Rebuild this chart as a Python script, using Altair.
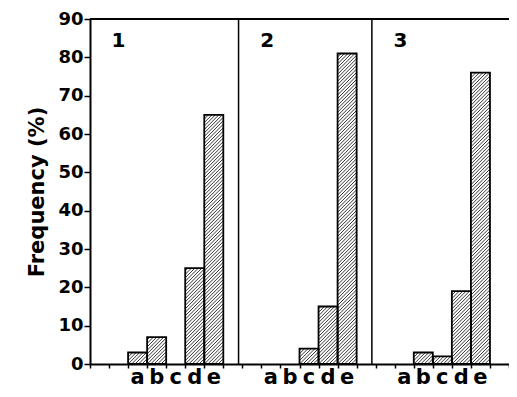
import altair as alt
import pandas as pd

# ---- data ----
categories = ["a", "b", "c", "d", "e"]
panel_names = ["1", "2", "3"]
freq_panel_1 = [3, 7, 0, 25, 65]
freq_panel_2 = [0, 0, 4, 15, 81]
freq_panel_3 = [0, 3, 2, 19, 76]
y_ticks = [0, 10, 20, 30, 40, 50, 60, 70, 80, 90]

# ---- layout constants (slot units on a shared x scale) ----
SLOTS_PER_PANEL = 7
FIRST_SLOT = 2
PANEL_START = [0.0, 7.8, 14.8]
X_MAX = 22.0
Y_MAX = 90
W, H = 419, 345
PAD_TOP, PAD_BOTTOM = 11, 25
FONT = "DejaVu Sans"

series = [freq_panel_1, freq_panel_2, freq_panel_3]
rows = []
for p, vals in enumerate(series):
    for k, (c, v) in enumerate(zip(categories, vals)):
        x0 = SLOTS_PER_PANEL * p + FIRST_SLOT + k
        rows.append({"panel": panel_names[p], "cat": c, "freq": v,
                     "x0": x0, "x1": x0 + 1, "xc": x0 + 0.5})
bars_df = pd.DataFrame(rows)

labels_df = pd.DataFrame({"panel": panel_names,
                          "xp": [s + 1.5 for s in PANEL_START]})
dividers_df = pd.DataFrame({"xd": PANEL_START[1:]})

xs = alt.Scale(domain=[0, X_MAX], nice=False, zero=False)
ys = alt.Scale(domain=[0, Y_MAX], nice=False)

x_axis = alt.Axis(values=list(range(0, 23)), labels=False, title=None,
                  tickSize=4, tickWidth=1.5, tickColor="black",
                  domainWidth=2, domainColor="black", grid=False)
y_axis = alt.Axis(values=y_ticks, title="Frequency (%)", grid=False,
                  labelOverlap=False, labelFlush=False,
                  labelFont=FONT, labelFontWeight="bold", labelFontSize=18,
                  labelColor="black", labelPadding=1,
                  tickSize=6, tickWidth=1.5, tickColor="black",
                  domainWidth=2, domainColor="black",
                  titleFont=FONT, titleFontWeight="bold", titleFontSize=21,
                  titleColor="black", titlePadding=10)

base = alt.Chart(bars_df).transform_filter("datum.freq > 0")

# white bar background
bar_bg = base.mark_bar(fill="white", strokeWidth=0).encode(
    x=alt.X("x0:Q", scale=xs, axis=x_axis),
    x2="x1:Q",
    y=alt.Y("freq:Q", scale=ys, axis=y_axis),
    y2=alt.value(H),
)

# diagonal hatching inside each bar
K = (W / X_MAX) / (H / Y_MAX)   # y units for a 45-degree rise across one slot
S = 0.9                          # vertical spacing of hatch lines (y units)
hatch = base.transform_calculate(
    t=f"sequence({-K + S / 2}, datum.freq, {S})"
).transform_flatten(["t"]).transform_calculate(
    xa=f"datum.x0 + max(0, -datum.t) / {K}",
    ya="max(datum.t, 0)",
    xb=f"datum.x0 + min({K}, datum.freq - datum.t) / {K}",
    yb=f"min(datum.t + {K}, datum.freq)",
).mark_rule(color="black", strokeWidth=0.8).encode(
    x=alt.X("xa:Q", scale=xs, axis=x_axis),
    x2="xb:Q",
    y=alt.Y("ya:Q", scale=ys, axis=y_axis),
    y2="yb:Q",
)

bar_outline = base.mark_bar(fillOpacity=0, stroke="black", strokeWidth=1.8).encode(
    x=alt.X("x0:Q", scale=xs, axis=x_axis),
    x2="x1:Q",
    y=alt.Y("freq:Q", scale=ys, axis=y_axis),
    y2=alt.value(H),
)

cat_text = alt.Chart(bars_df).mark_text(
    font=FONT, fontWeight="bold", fontSize=21, color="black",
    baseline="alphabetic"
).encode(
    x=alt.X("xc:Q", scale=xs, axis=x_axis),
    y=alt.value(H + 20),
    text="cat:N",
)

panel_text = alt.Chart(labels_df).mark_text(
    font=FONT, fontWeight="bold", fontSize=20, color="black",
    baseline="alphabetic"
).encode(
    x=alt.X("xp:Q", scale=xs, axis=x_axis),
    y=alt.value(28),
    text="panel:N",
)

dividers = alt.Chart(dividers_df).mark_rule(color="black", strokeWidth=1.5).encode(
    x=alt.X("xd:Q", scale=xs, axis=x_axis),
    y=alt.value(0),
    y2=alt.value(H),
)

top_line = alt.Chart(pd.DataFrame({"a": [0]})).mark_rule(
    color="black", strokeWidth=2
).encode(
    x=alt.value(0),
    x2=alt.value(W),
    y=alt.value(0),
)

chart = alt.layer(
    bar_bg, hatch, bar_outline, dividers, top_line, cat_text, panel_text
).properties(
    width=W, height=H,
    autosize=alt.AutoSizeParams(type="none"),
    padding={"left": 82, "top": PAD_TOP, "right": 0, "bottom": PAD_BOTTOM},
    background="white",
).configure_view(stroke=None)

chart.save("out.html", embed_options={"renderer": "svg", "actions": False})
